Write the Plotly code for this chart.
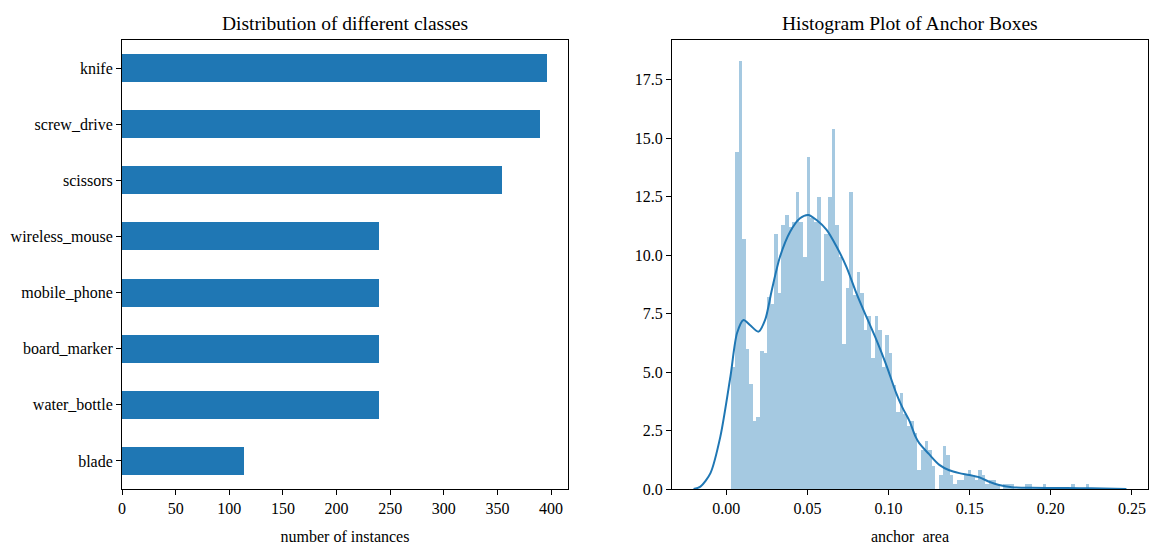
import numpy as np
import plotly.graph_objects as go

# ---------------- data ----------------
classes = ["knife", "screw_drive", "scissors", "wireless_mouse",
           "mobile_phone", "board_marker", "water_bottle", "blade"]
instances = [396, 390, 354, 240, 240, 240, 240, 114]

# histogram of anchor areas (density), 100 equal bins
hist_min = 0.0031
hist_max = 0.2237
hist_density = [
    5.2, 14.4, 18.3, 10.7, 6.0, 4.5, 2.9, 3.1, 5.9, 5.8,
    8.2, 7.9, 10.9, 8.4, 11.3, 11.7, 11.2, 11.4, 12.7, 11.4,
    9.9, 14.2, 11.6, 11.4, 12.5, 8.9, 10.9, 12.5, 15.4, 11.3,
    9.9, 6.2, 8.6, 12.7, 8.3, 9.3, 8.4, 6.8, 7.4, 5.6,
    7.4, 6.8, 5.2, 6.6, 5.8, 4.45, 3.3, 4.1, 3.2, 2.7,
    2.9, 2.4, 0.8, 1.65, 2.05, 1.65, 1.0, 0.0, 0.6, 1.85,
    1.45, 0.6, 0.2, 0.4, 0.4, 0.6, 0.8, 0.6, 0.4, 0.8,
    0.6, 0.2, 0.4, 0.4, 0.2, 0.0, 0.2, 0.2, 0.2, 0.0,
    0.0, 0.0, 0.2, 0.2, 0.0, 0.0, 0.0, 0.2, 0.0, 0.0,
    0.0, 0.0, 0.0, 0.0, 0.0, 0.2, 0.0, 0.0, 0.0, 0.2,
]

# KDE curve
kde_x = [-0.0202, -0.016, -0.0098, -0.0037, 0.0025, 0.0066, 0.0106, 0.0147,
         0.0198, 0.0239, 0.028, 0.0331, 0.0393, 0.0454, 0.0505, 0.0556,
         0.0618, 0.0679, 0.074, 0.0802, 0.0863, 0.0925, 0.0986, 0.1047,
         0.1084, 0.1129, 0.1166, 0.119, 0.1248, 0.1313, 0.1374, 0.1436,
         0.1497, 0.1558, 0.162, 0.1681, 0.176, 0.188, 0.21, 0.225, 0.2466]
kde_y = [0.0, 0.1, 0.68, 2.24, 4.8, 6.67, 7.23, 7.0,
         6.73, 7.23, 8.5, 9.94, 11.0, 11.58, 11.72, 11.5,
         11.08, 10.37, 9.5, 8.37, 7.37, 6.38, 5.3, 4.1,
         3.5, 2.9, 2.24, 1.95, 1.5, 1.03, 0.8, 0.68,
         0.6, 0.5, 0.31, 0.17, 0.08, 0.05, 0.04, 0.03, 0.0]

bar_ticks = [0, 50, 100, 150, 200, 250, 300, 350, 400]
hist_xticks = [0.00, 0.05, 0.10, 0.15, 0.20, 0.25]
hist_yticks = [0.0, 2.5, 5.0, 7.5, 10.0, 12.5, 15.0, 17.5]

# ---------------- figure ----------------
W, H = 1151, 547
FONT = "Liberation Serif, Times New Roman, serif"
C0 = "#1f77b4"

edges = np.linspace(hist_min, hist_max, len(hist_density) + 1)
centers = (edges[:-1] + edges[1:]) / 2
bw = edges[1] - edges[0]

fig = go.Figure()

fig.add_trace(go.Bar(
    x=instances, y=classes, orientation="h", width=0.5,
    marker=dict(color=C0, line=dict(width=0)),
    xaxis="x", yaxis="y", showlegend=False,
))

fig.add_trace(go.Bar(
    x=centers, y=hist_density, width=bw,
    marker=dict(color="rgba(31,119,180,0.4)", line=dict(width=0)),
    xaxis="x2", yaxis="y2", showlegend=False,
))

fig.add_trace(go.Scatter(
    x=kde_x, y=kde_y, mode="lines",
    line=dict(color=C0, width=2, shape="spline", smoothing=0.8),
    xaxis="x2", yaxis="y2", showlegend=False,
))

axis_common = dict(
    showline=True, mirror=True, linecolor="black", linewidth=1,
    ticks="outside", ticklen=5, tickwidth=1, tickcolor="black",
    showgrid=False, zeroline=False, automargin=False,
    tickfont=dict(family=FONT, size=16, color="black"),
)

ydom = [58 / H, 507 / H]

fig.update_layout(
    width=W, height=H,
    margin=dict(l=0, r=0, t=0, b=0, autoexpand=False),
    paper_bgcolor="white", plot_bgcolor="white",
    bargap=0,
    font=dict(family=FONT, size=16, color="black"),
    xaxis=dict(
        domain=[122 / W, 568 / W], range=[0, 415.8],
        tickvals=bar_ticks, anchor="y",
        title=dict(text="number of instances", font=dict(family=FONT, size=16),
                   standoff=14),
        **axis_common,
    ),
    yaxis=dict(
        domain=ydom, range=[7.5, -0.5], type="category",
        categoryorder="array", categoryarray=classes, anchor="x",
        **axis_common,
    ),
    xaxis2=dict(
        domain=[672 / W, 1148 / W], range=[-0.0335, 0.2599],
        tickvals=hist_xticks, tickformat=".2f", anchor="y2",
        title=dict(text="anchor\u00a0 area", font=dict(family=FONT, size=16),
                   standoff=14),
        **axis_common,
    ),
    yaxis2=dict(
        domain=ydom, range=[0, 19.2],
        tickvals=hist_yticks, tickformat=".1f", anchor="x2",
        **axis_common,
    ),
    annotations=[
        dict(text="Distribution of different classes", x=345 / W, y=(H - 23) / H,
             xref="paper", yref="paper", xanchor="center", yanchor="middle",
             showarrow=False, font=dict(family=FONT, size=19.5, color="black")),
        dict(text="Histogram Plot of Anchor Boxes", x=910 / W, y=(H - 23) / H,
             xref="paper", yref="paper", xanchor="center", yanchor="middle",
             showarrow=False, font=dict(family=FONT, size=19.5, color="black")),
    ],
)

fig.write_html(
    "out.html",
    config={"displayModeBar": False},
    post_script="document.body.style.margin='0px';document.body.style.overflow='hidden';",
)
